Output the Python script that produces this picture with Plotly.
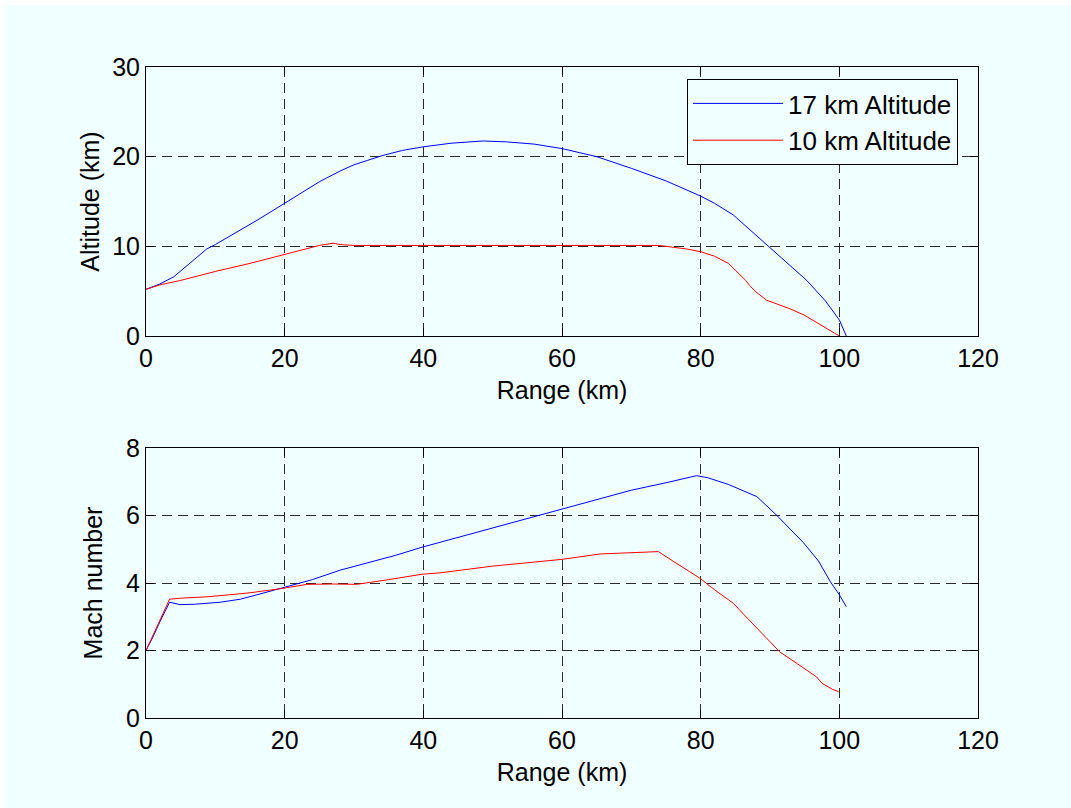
import plotly.graph_objects as go

# Trajectory: range (km) vs altitude (km)
alt17_range = [0, 2, 4, 5.4, 7, 8.75, 10, 13.6, 16, 20, 25, 28, 30, 32, 34, 37, 40, 44, 48.6, 52,
               56, 60, 65, 70, 75, 80, 82, 84.7, 87, 89.7, 92, 95.3, 98, 100, 101]
alt17_alt = [5.2, 5.8, 6.6, 7.5, 8.6, 9.7, 10.2, 11.8, 12.9, 14.8, 17.2, 18.4, 19.1, 19.6, 20.1,
             20.7, 21.1, 21.5, 21.75, 21.65, 21.4, 20.9, 20.0, 18.7, 17.3, 15.6, 14.8, 13.5,
             11.9, 10.0, 8.5, 6.2, 3.9, 1.8, 0]

alt10_range = [0, 2, 5, 10, 15, 20, 23, 25, 27, 28, 30, 40, 50, 60, 70, 74, 76, 78, 80, 82, 84,
               85.5, 86.5, 87.1, 88, 89.5, 91.4, 93, 95, 97, 100]
alt10_alt = [5.2, 5.7, 6.2, 7.2, 8.1, 9.1, 9.7, 10.1, 10.35, 10.2, 10.1, 10.1, 10.1, 10.1, 10.1,
             10.1, 9.9, 9.7, 9.4, 8.9, 8.1, 7.0, 6.2, 5.6, 4.9, 4.0, 3.5, 3.0, 2.3, 1.4, 0]

# Mach number vs range
mach17_range = [0, 1, 2, 3.4, 4.9, 7, 10.7, 13.6, 16, 19.7, 24, 28, 32, 36, 39.8, 45, 50, 55, 60,
                65, 70, 75, 79.4, 81, 84, 88.1, 91, 94.8, 97, 98.7, 100, 101]
mach17_val = [2.0, 2.4, 2.85, 3.43, 3.36, 3.37, 3.43, 3.52, 3.65, 3.86, 4.1, 4.38, 4.6, 4.82,
              5.06, 5.35, 5.62, 5.9, 6.2, 6.48, 6.75, 6.97, 7.18, 7.12, 6.92, 6.56, 6.0, 5.2,
              4.65, 4.04, 3.65, 3.3]

mach10_range = [0, 1, 2, 3.4, 5, 8.75, 12, 15, 19.7, 23.2, 27, 30.4, 35, 39.8, 42.4, 50, 55, 60,
                65.5, 70, 73.9, 76, 79.9, 82, 84.7, 87, 89.5, 91.4, 94, 96.7, 97.5, 99, 99.9]
mach10_val = [2.0, 2.45, 2.9, 3.52, 3.55, 3.59, 3.65, 3.71, 3.84, 3.96, 3.97, 3.96, 4.1, 4.26,
              4.3, 4.5, 4.6, 4.7, 4.86, 4.9, 4.93, 4.65, 4.14, 3.8, 3.4, 2.9, 2.37, 1.96, 1.6,
              1.22, 1.03, 0.85, 0.78]

series_names = ["17 km Altitude", "10 km Altitude"]
BLUE = "#0000FF"
RED = "#FF0000"
BG = "#F0FFFF"
FONT = dict(family="Liberation Sans, Arial, sans-serif", size=25, color="black")

W, H = 1071, 808

fig = go.Figure()

fig.add_trace(go.Scatter(x=alt17_range, y=alt17_alt, mode="lines", name=series_names[0],
                         line=dict(color=BLUE, width=1), xaxis="x", yaxis="y"))
fig.add_trace(go.Scatter(x=alt10_range, y=alt10_alt, mode="lines", name=series_names[1],
                         line=dict(color=RED, width=1), xaxis="x", yaxis="y"))
fig.add_trace(go.Scatter(x=mach17_range, y=mach17_val, mode="lines", showlegend=False,
                         line=dict(color=BLUE, width=1), xaxis="x2", yaxis="y2"))
fig.add_trace(go.Scatter(x=mach10_range, y=mach10_val, mode="lines", showlegend=False,
                         line=dict(color=RED, width=1), xaxis="x2", yaxis="y2"))

x_dom = [146 / W, 978 / W]
top_dom = [1 - 336 / H, 1 - 67 / H]
bot_dom = [1 - 718 / H, 1 - 448 / H]

common = dict(
    showline=True, linecolor="black", linewidth=1, mirror="ticks",
    ticks="inside", ticklen=8, tickcolor="black", tickwidth=1,
    showgrid=True, gridcolor="#2a2a2a", gridwidth=1, griddash="10px,6px",
    zeroline=False, tickfont=FONT, title_font=FONT, automargin=False,
)

fig.update_layout(
    template="none",
    width=W, height=H,
    margin=dict(l=0, r=0, t=0, b=0, pad=0, autoexpand=False),
    paper_bgcolor="white", plot_bgcolor=BG,
    font=FONT,
    xaxis=dict(domain=x_dom, range=[0, 120], tickvals=[0, 20, 40, 60, 80, 100, 120],
               anchor="y", title=dict(text="Range (km)", standoff=10), **common),
    yaxis=dict(domain=top_dom, range=[0, 30], tickvals=[0, 10, 20, 30], anchor="x",
               title=dict(text="Altitude (km)", standoff=5), **common),
    xaxis2=dict(domain=x_dom, range=[0, 120], tickvals=[0, 20, 40, 60, 80, 100, 120],
                anchor="y2", title=dict(text="Range (km)", standoff=10), **common),
    yaxis2=dict(domain=bot_dom, range=[0, 8], tickvals=[0, 2, 4, 6, 8], anchor="x2",
                title=dict(text="Mach number", standoff=16), **common),
    legend=dict(x=687 / W, y=1 - 79 / H, xanchor="left", yanchor="top",
                bgcolor=BG, bordercolor="black", borderwidth=1,
                font=dict(FONT, size=26), itemwidth=90, tracegroupgap=0),
    shapes=[dict(type="rect", xref="paper", yref="paper", x0=5 / W, x1=1, y0=0, y1=1 - 5 / H,
                 fillcolor=BG, line=dict(width=0), layer="below")],
)

fig.write_html(
    "out.html",
    post_script="document.body.style.margin='0';document.body.style.overflow='hidden';",
)
